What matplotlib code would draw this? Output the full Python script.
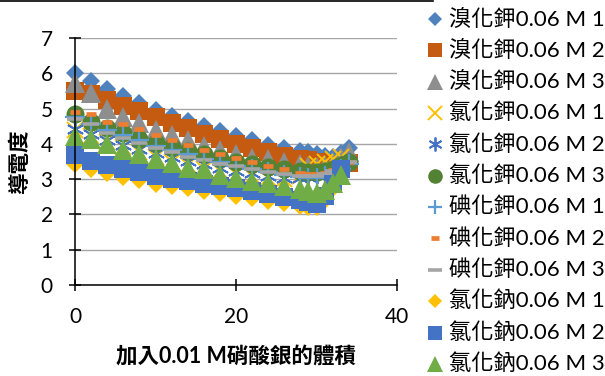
import matplotlib
matplotlib.use("Agg")
import matplotlib.pyplot as plt
from matplotlib.lines import Line2D

plt.rcParams['font.family'] = ['Lato', 'Noto Sans CJK TC', 'DejaVu Sans']

# Volume of 0.01 M AgNO3 added (mL)
volume = [0, 2, 4, 6, 8, 10, 12, 14, 16, 18, 20, 22, 24, 26, 28, 29, 30, 31, 32, 33, 34]

labels = [
    "溴化鉀0.06 M 1", "溴化鉀0.06 M 2", "溴化鉀0.06 M 3",
    "氯化鉀0.06 M 1", "氯化鉀0.06 M 2", "氯化鉀0.06 M 3",
    "碘化鉀0.06 M 1", "碘化鉀0.06 M 2", "碘化鉀0.06 M 3",
    "氯化鈉0.06 M 1", "氯化鈉0.06 M 2", "氯化鈉0.06 M 3",
]

kbr_1 = [6.02, 5.78, 5.56, 5.36, 5.16, 4.96, 4.80, 4.65, 4.50, 4.36, 4.22, 4.10, 3.97, 3.88, 3.80, 3.76, 3.70, 3.65, 3.63, 3.74, 3.87]
kbr_2 = [5.50, 5.40, 5.24, 5.08, 4.92, 4.76, 4.60, 4.44, 4.28, 4.14, 4.00, 3.88, 3.76, 3.66, 3.58, 3.55, 3.50, 3.45, 3.38, 3.36, 3.45]
kbr_3 = [5.72, 5.45, 4.98, 4.75, 4.60, 4.40, 4.25, 4.11, 3.95, 3.82, 3.71, 3.60, 3.56, 3.50, 3.42, 3.38, 3.34, 3.36, 3.46, 3.62, 3.78]
kcl_1 = [4.38, 4.22, 4.05, 3.90, 3.76, 3.62, 3.50, 3.40, 3.30, 3.22, 3.14, 3.08, 3.04, 3.00, 3.10, 3.38, 3.44, 3.50, 3.58, 3.64]
kcl_2 = [4.42, 4.28, 4.12, 3.98, 3.85, 3.74, 3.63, 3.52, 3.42, 3.32, 3.24, 3.17, 3.10, 3.04, 3.02, 3.05, 3.12, 3.22, 3.32, 3.42, 3.52]
kcl_3 = [4.85, 4.62, 4.45, 4.30, 4.15, 4.02, 3.90, 3.80, 3.70, 3.60, 3.50, 3.42, 3.35, 3.28, 3.22, 3.20, 3.20, 3.24, 3.30, 3.40, 3.50]
ki_1 = [4.76, 4.55, 4.38, 4.24, 4.10, 3.94, 3.82, 3.70, 3.58, 3.48, 3.38, 3.28, 3.20, 3.12, 3.05, 3.02, 3.02, 3.08, 3.18, 3.30, 3.42]
ki_2 = [4.91, 4.84, 4.63, 4.56, 4.41, 4.25, 4.10, 3.97, 3.82, 3.71, 3.60, 3.48, 3.37, 3.29, 3.17, 3.15, 3.14, 3.18, 3.26, 3.38, 3.50]
ki_3 = [4.70, 4.55, 4.32, 4.16, 4.02, 3.88, 3.76, 3.64, 3.54, 3.44, 3.36, 3.28, 3.20, 3.15, 3.10, 3.08, 3.08, 3.14, 3.24, 3.36, 3.48]
nacl_1 = [3.43, 3.29, 3.17, 3.06, 2.97, 2.86, 2.80, 2.75, 2.66, 2.60, 2.52, 2.46, 2.38, 2.31, 2.25, 2.22, 2.20, 2.40, 2.75, 3.10]
nacl_2 = [3.68, 3.52, 3.40, 3.30, 3.20, 3.08, 3.00, 2.94, 2.86, 2.80, 2.74, 2.66, 2.58, 2.50, 2.40, 2.34, 2.30, 2.52, 2.85, 3.30]
nacl_3 = [4.22, 4.14, 4.00, 3.84, 3.70, 3.58, 3.45, 3.32, 3.28, 3.12, 3.03, 2.95, 2.88, 2.80, 2.72, 2.66, 2.62, 2.68, 2.88, 3.12]

series = [kbr_1, kbr_2, kbr_3, kcl_1, kcl_2, kcl_3, ki_1, ki_2, ki_3, nacl_1, nacl_2, nacl_3]

# marker, colour, edge width, size in the plot, size in the legend
styles = [
    ('D', '#4F81BD', 0.0, 9.6, 7.5),
    ('s', '#C55A11', 0.0, 13.0, 9.5),
    ('^', '#8E8E8E', 0.0, 14.5, 11.0),
    ('x', '#FFC000', 1.4, 11.5, 9.5),
    ((6, 2, 0), '#4472C4', 1.3, 12.5, 10.0),
    ('o', '#548235', 0.0, 13.0, 10.5),
    ('+', '#5B9BD5', 1.6, 14.0, 10.5),
    ('_', '#ED7D31', 3.4, 7.5, 6.0),
    ('_', '#A5A5A5', 2.6, 12.0, 9.5),
    ('D', '#FFC000', 0.0, 9.6, 7.5),
    ('s', '#4472C4', 0.0, 13.0, 9.5),
    ('^', '#70AD47', 0.0, 14.5, 11.0),
]

W, H = 605, 376
fig = plt.figure(figsize=(W / 100, H / 100), dpi=100)
ax = fig.add_axes([75 / W, 1 - 285 / H, (397 - 75) / W, (285 - 38) / H])

for ys, (mk, col, mew, ms, _) in zip(series, styles):
    ax.plot(volume[:len(ys)], ys, linestyle='none', marker=mk, markersize=ms,
            color=col, markerfacecolor=col, markeredgecolor=col,
            markeredgewidth=mew, clip_on=False)

ax.set_xlim(0, 40)
ax.set_ylim(0, 7)
ax.set_xticks([0, 20, 40])
ax.set_yticks(range(0, 8))
ax.yaxis.grid(True, color='#A6A6A6', linewidth=1.0)
ax.set_axisbelow(True)
for side in ('top', 'right'):
    ax.spines[side].set_visible(False)
for side in ('left', 'bottom'):
    ax.spines[side].set_color('black')
    ax.spines[side].set_linewidth(1.1)
ax.tick_params(axis='both', direction='inout', length=8, width=1.1,
               labelsize=15, colors='black')
ax.tick_params(axis='y', pad=12)
ax.tick_params(axis='x', pad=12)

ax.set_xlabel("加入0.01 M硝酸銀的體積", fontsize=15.5, fontweight='bold', labelpad=13)
ax.set_ylabel("導電度", fontsize=15.5, fontweight='bold', labelpad=8)

# legend placed at fixed figure positions
for i, ((mk, col, mew, _, lms), lab) in enumerate(zip(styles, labels)):
    yc = 1 - (19 + 31.35 * i) / H
    fig.add_artist(Line2D([435 / W], [yc], transform=fig.transFigure,
                          linestyle='none', marker=mk, markersize=lms,
                          color=col, markerfacecolor=col, markeredgecolor=col,
                          markeredgewidth=mew))
    fig.text(449 / W, yc, lab, fontsize=16, va='center', ha='left')

# outer border fragment along the top edge
fig.add_artist(Line2D([0, 433 / W], [1 - 1.0 / H] * 2, transform=fig.transFigure,
                      color='black', linewidth=1.2))

fig.savefig("out.png", dpi=100)
